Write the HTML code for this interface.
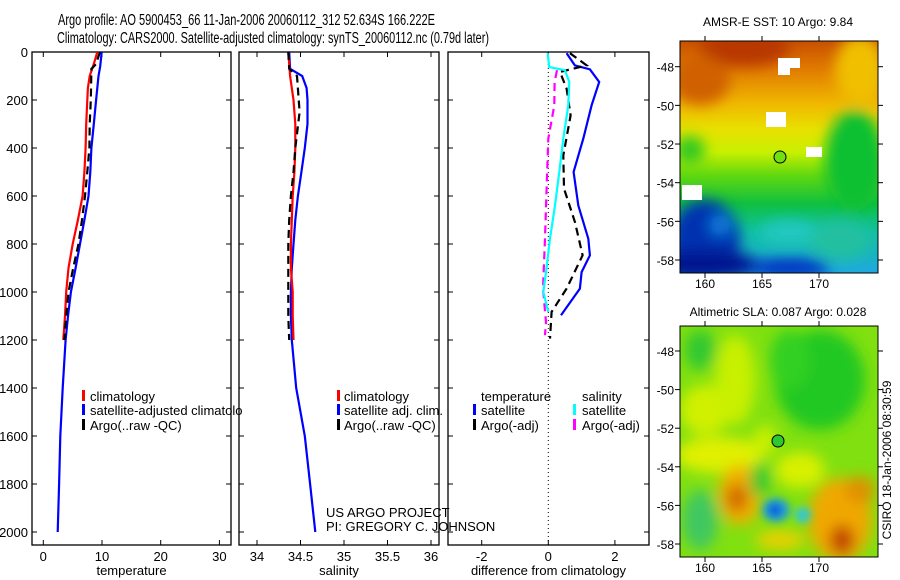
<!DOCTYPE html>
<html><head><meta charset="utf-8"><style>
body{margin:0;background:#fff;}
svg{display:block;font-family:"Liberation Sans",sans-serif;}
</style></head><body>
<svg id="fig" width="900" height="580" viewBox="0 0 900 580">
<defs>
<clipPath id="cp1"><rect x="32" y="52" width="199" height="493"/></clipPath>
<clipPath id="cp2"><rect x="239" y="52" width="200" height="493"/></clipPath>
<clipPath id="cp3"><rect x="448" y="52" width="201" height="493"/></clipPath>
<clipPath id="cpm1"><rect x="680" y="41" width="198" height="232"/></clipPath>
<clipPath id="cpm2"><rect x="680" y="326" width="198" height="231"/></clipPath>
<filter id="bl" x="-50%" y="-50%" width="200%" height="200%"><feGaussianBlur stdDeviation="7"/></filter>
<filter id="bl2" x="-50%" y="-50%" width="200%" height="200%"><feGaussianBlur stdDeviation="4"/></filter>
<linearGradient id="sstg" x1="0" y1="0" x2="0" y2="1">
<stop offset="0" stop-color="#c85000"/><stop offset="0.12" stop-color="#e07a00"/>
<stop offset="0.27" stop-color="#f0b800"/><stop offset="0.38" stop-color="#e8e000"/>
<stop offset="0.48" stop-color="#c8f000"/><stop offset="0.58" stop-color="#60d810"/>
<stop offset="0.7" stop-color="#10c040"/><stop offset="0.82" stop-color="#10c0a0"/>
<stop offset="1" stop-color="#20a8e0"/></linearGradient>
</defs>

<g font-size="15.5">
<text x="58" y="25" textLength="377" lengthAdjust="spacingAndGlyphs">Argo profile: AO 5900453_66 11-Jan-2006 20060112_312 52.634S 166.222E</text>
<text x="57" y="43" textLength="432" lengthAdjust="spacingAndGlyphs">Climatology: CARS2000. Satellite-adjusted climatology: synTS_20060112.nc (0.79d later)</text>
</g>

<g id="axes"></g>
<g id="lines"></g>

<g font-size="13">
<rect x="82" y="390" width="3" height="11" fill="#f00"/>
<text x="90" y="401">climatology</text>
<rect x="82" y="404" width="3" height="11" fill="#00f"/>
<text x="90" y="415">satellite-adjusted climatolo</text>
<rect x="82" y="419" width="3" height="11" fill="#000"/>
<text x="90" y="430">Argo(..raw -QC)</text>
</g>
<g font-size="13">
<rect x="337" y="390" width="3" height="11" fill="#f00"/><text x="344" y="401">climatology</text>
<rect x="337" y="404" width="3" height="11" fill="#00f"/><text x="344" y="415">satellite adj. clim.</text>
<rect x="337" y="419" width="3" height="11" fill="#000"/><text x="344" y="430">Argo(..raw -QC)</text>
</g>
<g font-size="13">
<text x="481" y="401">temperature</text><text x="582" y="401">salinity</text>
<rect x="473" y="404" width="3" height="11" fill="#00f"/><text x="481" y="415">satellite</text>
<rect x="473" y="419" width="3" height="11" fill="#000"/><text x="481" y="430">Argo(-adj)</text>
<rect x="573" y="404" width="3" height="11" fill="#0ff"/><text x="582" y="415">satellite</text>
<rect x="573" y="419" width="3" height="11" fill="#f0f"/><text x="582" y="430">Argo(-adj)</text>
</g>
<g font-size="13">
<text x="326" y="517">US ARGO PROJECT</text>
<text x="326" y="531">PI: GREGORY C. JOHNSON</text>
</g>

<!-- SST map -->
<g>
<text x="778" y="26" font-size="12" text-anchor="middle">AMSR-E SST: 10 Argo: 9.84</text>
<g clip-path="url(#cpm1)">
<rect x="680" y="41" width="198" height="232" fill="url(#sstg)"/>
<g filter="url(#bl)">
<ellipse cx="745" cy="48" rx="45" ry="18" fill="#b83800"/>
<ellipse cx="700" cy="80" rx="30" ry="25" fill="#d06000"/>
<ellipse cx="860" cy="70" rx="25" ry="35" fill="#f0c000"/>
<ellipse cx="855" cy="160" rx="30" ry="50" fill="#10c030"/>
<ellipse cx="690" cy="150" rx="15" ry="14" fill="#30c820"/>
<ellipse cx="705" cy="240" rx="35" ry="40" fill="#0030b0"/>
<ellipse cx="700" cy="265" rx="60" ry="15" fill="#001890"/>
<ellipse cx="790" cy="268" rx="40" ry="10" fill="#0030c0"/>
<ellipse cx="790" cy="232" rx="30" ry="12" fill="#20c8c0"/>
<ellipse cx="840" cy="240" rx="30" ry="20" fill="#20c0a0"/>
<ellipse cx="720" cy="225" rx="10" ry="10" fill="#1080e0"/>
</g>
<g fill="#fff">
<rect x="778" y="58" width="22" height="10"/><rect x="778" y="65" width="12" height="10"/>
<rect x="766" y="112" width="20" height="15"/><rect x="806" y="147" width="16" height="10"/>
<rect x="682" y="185" width="20" height="15"/>
</g>
<circle cx="780" cy="157" r="6" fill="#70e010" stroke="#000" stroke-width="1"/>
</g>
<rect x="680" y="41" width="198" height="232" fill="none" stroke="#000"/>
</g>
<!-- SLA map -->
<g>
<text x="778" y="316" font-size="12" text-anchor="middle">Altimetric SLA: 0.087 Argo: 0.028</text>
<g clip-path="url(#cpm2)">
<rect x="680" y="326" width="198" height="231" fill="#80e010"/>
<g filter="url(#bl)">
<ellipse cx="700" cy="350" rx="15" ry="20" fill="#30c830"/>
<ellipse cx="820" cy="380" rx="45" ry="50" fill="#20c820"/>
<ellipse cx="790" cy="360" rx="20" ry="30" fill="#30d020"/>
<ellipse cx="705" cy="410" rx="25" ry="25" fill="#d0f000"/>
<ellipse cx="735" cy="380" rx="20" ry="45" fill="#c8f000"/>
<ellipse cx="720" cy="455" rx="45" ry="18" fill="#e0f000"/>
<ellipse cx="700" cy="520" rx="18" ry="30" fill="#40c860"/>
<ellipse cx="740" cy="495" rx="22" ry="30" fill="#f0b000"/>
<ellipse cx="737" cy="498" rx="10" ry="14" fill="#d06000"/>
<ellipse cx="840" cy="520" rx="32" ry="42" fill="#f0a800"/>
<ellipse cx="842" cy="540" rx="12" ry="15" fill="#c04000"/>
<ellipse cx="860" cy="490" rx="15" ry="14" fill="#e09000"/>
<ellipse cx="780" cy="540" rx="25" ry="10" fill="#e8d000"/>
<ellipse cx="800" cy="470" rx="25" ry="18" fill="#d8f000"/>
<ellipse cx="765" cy="440" rx="12" ry="15" fill="#c8f000"/>
<ellipse cx="760" cy="480" rx="10" ry="18" fill="#30c830"/>
</g>
<g filter="url(#bl2)">
<ellipse cx="776" cy="510" rx="14" ry="12" fill="#20a0d0"/>
<ellipse cx="775" cy="510" rx="6" ry="6" fill="#0050e0"/>
<ellipse cx="803" cy="515" rx="8" ry="8" fill="#30c8d0"/>
</g>
<circle cx="778" cy="441" r="6" fill="#30c830" stroke="#000" stroke-width="1"/>
</g>
<rect x="680" y="326" width="198" height="231" fill="none" stroke="#000"/>
</g>
<text transform="translate(891,460) rotate(-90)" font-size="12" text-anchor="middle">CSIRO 18-Jan-2006 08:30:59</text>
<g id="mapaxes"></g>
</svg>
<script>
// ---- data ----
const tempClimDepth = [0,50,100,150,200,300,400,500,600,700,800,900,1000,1100,1200];
const tempClim = [9.2,8.6,7.9,7.6,7.5,7.3,7.2,7.0,6.7,5.9,5.0,4.3,3.9,3.7,3.4];
const tempSatDepth = [0,60,100,200,300,400,500,600,700,800,900,1000,1100,1200,1400,1600,1800,2000];
const tempSat = [9.95,9.7,9.4,9.0,8.6,8.2,8.0,7.7,7.0,6.25,5.5,4.7,4.2,3.8,3.3,2.9,2.7,2.45];
const tempArgoDepth = [0,50,70,200,300,400,500,600,700,800,900,1000,1100,1200];
const tempArgo = [9.65,9.0,8.2,8.1,7.9,7.85,7.5,7.1,6.6,6.0,5.1,4.3,3.9,3.6];

const salClimDepth = [0,100,200,300,400,500,600,700,800,900,1000,1100,1200];
const salClim = [34.36,34.38,34.42,34.44,34.44,34.43,34.41,34.40,34.39,34.39,34.41,34.41,34.42];
const salSatDepth = [0,70,100,150,200,300,400,500,600,700,800,900,1000,1100,1200,1400,1600,1800,2000];
const salSat = [34.37,34.38,34.52,34.57,34.58,34.58,34.55,34.51,34.47,34.44,34.42,34.40,34.39,34.39,34.40,34.45,34.55,34.61,34.67];
const salArgoDepth = [0,70,100,250,400,500,600,700,800,900,1000,1100,1200];
const salArgo = [34.36,34.37,34.46,34.49,34.44,34.42,34.39,34.37,34.36,34.36,34.36,34.36,34.37];

const dTSatDepth = [5,56,72,125,222,361,500,639,778,847,917,986,1097];
const dTSat = [0.55,0.8,1.25,1.53,1.3,1.05,0.76,0.9,1.2,1.25,1.0,0.95,0.38];
const dTArgoDepth = [5,40,56,83,153,264,431,569,708,847,986,1083,1194];
const dTArgo = [0.65,1.0,1.15,0.35,0.55,0.67,0.45,0.47,0.8,1.03,0.55,0.1,0.05];
const dSSatDepth = [5,63,76,125,222,361,500,639,778,917,1000,1083];
const dSSat = [-0.02,0.03,0.5,0.63,0.6,0.45,0.33,0.2,0.05,-0.07,-0.15,0];
const dSArgoDepth = [76,125,222,361,569,778,986,1125,1180];
const dSArgo = [0.26,0.19,0.18,0,-0.05,-0.1,-0.16,-0.07,-0.1];

const depthTicks = [0,200,400,600,800,1000,1200,1400,1600,1800,2000];
const tempTicks = [0,10,20,30];
const salTicks = [34,34.5,35,35.5,36];
const diffTicks = [-2,0,2];
const latTicks = [-48,-50,-52,-54,-56,-58];
const lonTicks = [160,165,170];

// ---- scales ----
const yD = d => 52 + d*0.24;
const xT = t => 43.3 + 5.87*t;
const xS = s => 257 + 87*(s-34);
const xDf = v => 548.3 + 33.3*v;

const NS='http://www.w3.org/2000/svg';
function mk(tag, attrs, parent){const e=document.createElementNS(NS,tag);for(const k in attrs)e.setAttribute(k,attrs[k]);parent.appendChild(e);return e;}
const axes=document.getElementById('axes'), lines=document.getElementById('lines');

const panels=[
 {x0:32,x1:231,sx:xT,ticks:tempTicks,label:'temperature',name:'temperature-panel',ylab:true},
 {x0:239,x1:439,sx:xS,ticks:salTicks,label:'salinity',name:'salinity-panel'},
 {x0:448,x1:649,sx:xDf,ticks:diffTicks,label:'difference from climatology',name:'difference-panel'}];
panels.forEach(p=>{
 const g=mk('g',{},axes);
 
 
 mk('rect',{x:p.x0,y:52,width:p.x1-p.x0,height:493,fill:'none',stroke:'#000','stroke-width':1.3},g);
 p.ticks.forEach(t=>{const x=p.sx(t);
  mk('line',{x1:x,x2:x,y1:545,y2:540,stroke:'#000'},g);
  mk('line',{x1:x,x2:x,y1:52,y2:57,stroke:'#000'},g);
  const tx=mk('text',{x:x,y:561,'font-size':13,'text-anchor':'middle'},g);tx.textContent=String(t);
  
  
 });
 depthTicks.forEach(d=>{const y=yD(d);
  mk('line',{x1:p.x0,x2:p.x0+5,y1:y,y2:y,stroke:'#000'},g);
  mk('line',{x1:p.x1,x2:p.x1-5,y1:y,y2:y,stroke:'#000'},g);
  if(p.ylab){const tx=mk('text',{x:28,y:y+5,'font-size':13,'text-anchor':'end'},g);tx.textContent=String(d);
   
   }
 });
 const xl=mk('text',{x:(p.x0+p.x1)/2,y:575,'font-size':13,'text-anchor':'middle'},g);xl.textContent=p.label;
 
 
});
mk('line',{x1:xDf(0),x2:xDf(0),y1:52,y2:545,stroke:'#000','stroke-dasharray':'1,3'},axes);

function prof(depths, vals, sx, color, dash, clip, name){
 const pts=depths.map((d,i)=>sx(vals[i]).toFixed(1)+','+yD(d).toFixed(1)).join(' ');
 const pl=mk('polyline',{points:pts,fill:'none',stroke:color,'stroke-width':2.2,'clip-path':'url(#'+clip+')'},lines);
 if(dash)pl.setAttribute('stroke-dasharray','8,5');
 
 
}
prof(tempSatDepth,tempSat,xT,'#00f',false,'cp1','temp-satellite-line');
prof(tempClimDepth,tempClim,xT,'#f00',false,'cp1','temp-climatology-line');
prof(tempArgoDepth,tempArgo,xT,'#000',true,'cp1','temp-argo-line');
prof(salSatDepth,salSat,xS,'#00f',false,'cp2','sal-satellite-line');
prof(salClimDepth,salClim,xS,'#f00',false,'cp2','sal-climatology-line');
prof(salArgoDepth,salArgo,xS,'#000',true,'cp2','sal-argo-line');
prof(dTSatDepth,dTSat,xDf,'#00f',false,'cp3','diff-temp-satellite-line');
prof(dTArgoDepth,dTArgo,xDf,'#000',true,'cp3','diff-temp-argo-line');
prof(dSArgoDepth,dSArgo,xDf,'#f0f',true,'cp3','diff-sal-argo-line');
prof(dSSatDepth,dSSat,xDf,'#0ff',false,'cp3','diff-sal-satellite-line');

// map axes
const ma=document.getElementById('mapaxes');
[{y0:41,y1:273,lat48:66.7,lat58:260},{y0:326,y1:557,lat48:351,lat58:544}].forEach(m=>{
 const yl=l=>m.lat48+(l+48)/(-10)*(m.lat58-m.lat48);
 latTicks.forEach(l=>{const y=yl(l);
  mk('line',{x1:680,x2:675,y1:y,y2:y,stroke:'#000'},ma);
  mk('line',{x1:878,x2:883,y1:y,y2:y,stroke:'#000'},ma);
  const t=mk('text',{x:674,y:y+5,'font-size':12,'text-anchor':'end'},ma);t.textContent=String(l);
  
  
 });
 lonTicks.forEach(l=>{const x=705+(l-160)*11.4;
  mk('line',{x1:x,x2:x,y1:m.y1,y2:m.y1+5,stroke:'#000'},ma);
  mk('line',{x1:x,x2:x,y1:m.y0,y2:m.y0-5,stroke:'#000'},ma);
  const t=mk('text',{x:x,y:m.y1+15,'font-size':12,'text-anchor':'middle'},ma);t.textContent=String(l);
  
  
 });
});
</script>
</body></html>
